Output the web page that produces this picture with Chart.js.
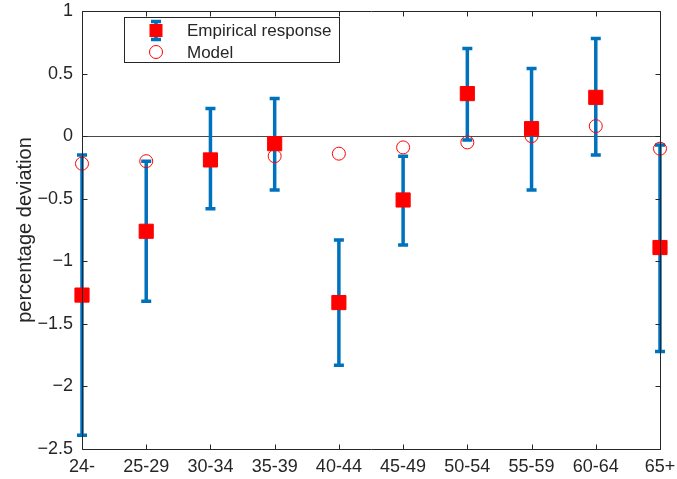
<!DOCTYPE html>
<html>
<head>
<meta charset="utf-8">
<script src="https://cdn.jsdelivr.net/npm/chart.js@4/dist/chart.umd.min.js"></script>
<style>
  html, body { margin: 0; padding: 0; background: #fff; }
  #wrap { width: 677px; height: 479px; }
</style>
</head>
<body>
<div id="wrap"><canvas id="chart" width="677" height="479"></canvas></div>
<script>
// age groups on the x axis
const categories = ['24-', '25-29', '30-34', '35-39', '40-44', '45-49', '50-54', '55-59', '60-64', '65+'];
// empirical response (red squares) and its error band
const empirical = [-1.27, -0.76, -0.19, -0.06, -1.33, -0.51, 0.34, 0.06, 0.31, -0.89];
const errUpper = [-0.15, -0.20, 0.22, 0.30, -0.83, -0.16, 0.70, 0.54, 0.78, -0.07];
const errLower = [-2.39, -1.32, -0.58, -0.43, -1.83, -0.87, -0.03, -0.43, -0.15, -1.72];
// model (open circles)
const model = [-0.22, -0.20, -0.19, -0.16, -0.14, -0.09, -0.05, 0.00, 0.08, -0.10];
const yTicks = [-2.5, -2, -1.5, -1, -0.5, 0, 0.5, 1];

const FONT = "'Liberation Sans', Arial, sans-serif";
const AXIS = '#262626';
const BLUE = '#0072BD';
const RED = '#FF0000';

function fmt(v) {
  return v < 0 ? '\u2212' + Math.abs(v) : String(v);
}

const matlabAxes = {
  id: 'matlabAxes',
  beforeDatasetsDraw(chart) {
    const { ctx, chartArea: a, scales: { x, y } } = chart;
    ctx.save();
    // zero line
    ctx.strokeStyle = '#4a4a4a';
    ctx.lineWidth = 1;
    ctx.beginPath();
    const y0 = Math.round(y.getPixelForValue(0)) + 0.5;
    ctx.moveTo(a.left, y0);
    ctx.lineTo(a.right, y0);
    ctx.stroke();

    // error bars
    ctx.strokeStyle = BLUE;
    ctx.lineWidth = 3.5;
    ctx.lineCap = 'butt';
    for (let i = 0; i < categories.length; i++) {
      const px = x.getPixelForValue(i);
      const top = y.getPixelForValue(errUpper[i]);
      const bot = y.getPixelForValue(errLower[i]);
      ctx.beginPath();
      ctx.moveTo(px, top);
      ctx.lineTo(px, bot);
      ctx.moveTo(px - 5, top);
      ctx.lineTo(px + 5, top);
      ctx.moveTo(px - 5, bot);
      ctx.lineTo(px + 5, bot);
      ctx.stroke();
    }
    ctx.restore();
  },
  afterDatasetsDraw(chart) {
    const { ctx, chartArea: a, scales: { x, y } } = chart;
    ctx.save();
    // box
    ctx.strokeStyle = AXIS;
    ctx.lineWidth = 1;
    const L = Math.round(a.left) + 0.5, R = Math.round(a.right) + 0.5;
    const T = Math.round(a.top) + 0.5, B = Math.round(a.bottom) + 0.5;
    ctx.beginPath();
    ctx.moveTo(L, T); ctx.lineTo(R, T); ctx.lineTo(R, B); ctx.lineTo(L, B); ctx.closePath();
    // inward ticks
    const tl = 5;
    yTicks.forEach(v => {
      const py = Math.round(y.getPixelForValue(v)) + 0.5;
      ctx.moveTo(L, py); ctx.lineTo(L + tl, py);
      ctx.moveTo(R, py); ctx.lineTo(R - tl, py);
    });
    categories.forEach((c, i) => {
      const px = Math.round(x.getPixelForValue(i)) + 0.5;
      ctx.moveTo(px, B); ctx.lineTo(px, B - tl);
      ctx.moveTo(px, T); ctx.lineTo(px, T + tl);
    });
    ctx.stroke();

    // legend
    const lx = 124.5, ly = 17.5, lw = 215, lh = 45;
    ctx.fillStyle = '#fff';
    ctx.fillRect(lx, ly, lw, lh);
    ctx.strokeStyle = AXIS;
    ctx.strokeRect(lx, ly, lw, lh);
    const ix = 156, r1 = 30.5, r2 = 52;
    // errorbar icon
    ctx.strokeStyle = BLUE;
    ctx.lineWidth = 3.5;
    ctx.beginPath();
    ctx.moveTo(ix, 20); ctx.lineTo(ix, 41);
    ctx.moveTo(ix - 5, 21.5); ctx.lineTo(ix + 5, 21.5);
    ctx.moveTo(ix - 5, 39.5); ctx.lineTo(ix + 5, 39.5);
    ctx.stroke();
    ctx.fillStyle = RED;
    ctx.fillRect(ix - 6.5, r1 - 6.5, 13, 13);
    // circle icon
    ctx.strokeStyle = RED;
    ctx.lineWidth = 1;
    ctx.beginPath();
    ctx.arc(ix, r2, 6.5, 0, Math.PI * 2);
    ctx.stroke();
    ctx.fillStyle = AXIS;
    ctx.font = '17px ' + FONT;
    ctx.textBaseline = 'middle';
    ctx.textAlign = 'left';
    ctx.fillText(chart.data.datasets[1].label, 187, r1 + 1);
    ctx.fillText(chart.data.datasets[0].label, 187, r2 + 1);
    ctx.restore();
  }
};

new Chart(document.getElementById('chart'), {
  type: 'scatter',
  data: {
    datasets: [
      {
        label: 'Model',
        data: model.map((v, i) => ({ x: i, y: v })),
        pointStyle: 'circle',
        pointRadius: 6.5,
        borderWidth: 1,
        borderColor: RED,
        backgroundColor: 'rgba(0,0,0,0)',
        order: 0,
        clip: false
      },
      {
        label: 'Empirical response',
        data: empirical.map((v, i) => ({ x: i, y: v })),
        pointStyle: 'rect',
        pointRadius: 10,
        borderWidth: 1,
        borderColor: RED,
        backgroundColor: RED,
        order: 1,
        clip: false
      }
    ]
  },
  options: {
    responsive: false,
    animation: false,
    layout: { padding: { left: 0, right: 17, top: 11, bottom: 0 } },
    plugins: { legend: { display: false }, tooltip: { enabled: false } },
    scales: {
      x: {
        type: 'linear',
        min: 0,
        max: 9,
        afterFit(s) { s.height = 30; s.paddingLeft = 0; s.paddingRight = 0; },
        afterBuildTicks(s) { s.ticks = categories.map((c, i) => ({ value: i })); },
        ticks: {
          callback: v => categories[v],
          color: AXIS,
          font: { family: FONT, size: 18 },
          padding: 7,
          maxRotation: 0,
          autoSkip: false
        },
        grid: { display: false, drawTicks: false },
        border: { display: false }
      },
      y: {
        min: -2.5,
        max: 1,
        afterFit(s) { s.width = 82; s.paddingTop = 0; s.paddingBottom = 0; },
        afterBuildTicks(s) { s.ticks = yTicks.map(v => ({ value: v })); },
        ticks: {
          callback: v => fmt(v),
          color: AXIS,
          font: { family: FONT, size: 18 },
          padding: 9
        },
        title: {
          display: true,
          text: 'percentage deviation',
          color: AXIS,
          font: { family: FONT, size: 20 },
          padding: { top: 13, bottom: 0 }
        },
        grid: { display: false, drawTicks: false },
        border: { display: false }
      }
    }
  },
  plugins: [matlabAxes]
});
</script>
</body>
</html>
